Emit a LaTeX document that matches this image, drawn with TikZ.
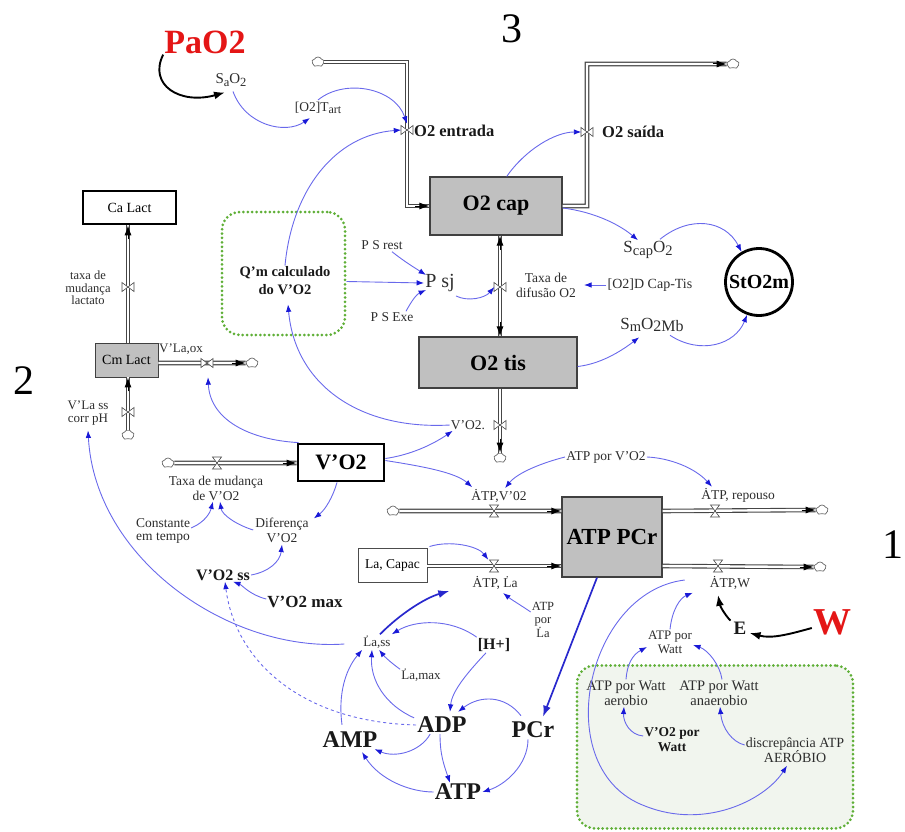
\documentclass[tikz,border=0pt]{standalone}
\usepackage{fontspec}
\setmainfont{Liberation Serif}
\usetikzlibrary{arrows.meta,shapes.symbols,calc}
\definecolor{infl}{RGB}{105,105,235}
\definecolor{inflhead}{RGB}{25,25,215}
\definecolor{strongblue}{RGB}{40,40,205}
\definecolor{stockgray}{RGB}{192,192,192}
\definecolor{pipegray}{RGB}{70,70,70}
\definecolor{dotgreen}{RGB}{95,175,55}
\definecolor{boxfill}{RGB}{241,245,238}
\definecolor{txt}{RGB}{45,45,45}
\definecolor{redlbl}{RGB}{228,22,22}
\newcommand\sbs[2][12.5]{\raisebox{-0.35ex}{\fontsize{#1}{#1}\selectfont #2}}
\tikzset{
  sm/.style={font=\fontsize{13.5}{15}\selectfont, text=txt, align=center, inner sep=1pt},
  bl/.style={font=\bfseries\fontsize{#1}{18}\selectfont, text=black!90, align=center, inner sep=1pt},
  num/.style={font=\fontsize{42}{42}\selectfont, inner sep=0pt},
  inf/.style={draw=infl, line width=0.9pt, -{Latex[length=7.5pt,width=5.5pt,color=inflhead]}},
  infs/.style={draw=strongblue, line width=1.7pt, -{Latex[length=11pt,width=8pt]}},
  blk/.style={draw=black, line width=1.9pt, -{Latex[length=11pt,width=8pt]}},
  pipe/.style={draw=pipegray, double=white, double distance=2.4pt, line width=1.1pt},
  ptip/.style={draw=black, line width=1pt, -{Latex[length=10pt,width=7pt]}},
  stock/.style={draw=black!75, fill=stockgray, line width=1.2pt, inner sep=0pt, font=\bfseries\fontsize{22}{22}\selectfont},
  cl/.style={cloud, cloud puffs=5, cloud puff arc=120, aspect=1.2, draw=black!60, fill=white, line width=0.7pt, minimum width=12pt, minimum height=10pt, inner sep=0pt},
  vn/.style={inner sep=0pt, minimum width=11pt, minimum height=12pt},
  gbox/.style={draw=dotgreen, dash pattern=on 0pt off 4.4pt, line cap=round, line width=3pt, rounded corners=18pt},
  vh/.pic={\draw[black!70,fill=white,line width=0.6pt] (-4.5,-6)--(4.5,-6)--(-4.5,6)--(4.5,6)--cycle;},
  vv/.pic={\draw[black!70,fill=white,line width=0.6pt] (-6,-4.5)--(-6,4.5)--(6,-4.5)--(6,4.5)--cycle;},
}
\begin{document}
\begin{tikzpicture}[x=1pt,y=-1pt]
\useasboundingbox (0,0) rectangle (905,832);
% background boxes
\node[gbox, minimum width=123pt, minimum height=123pt] (QmBox) at (283.5,273.5) {};
\node[gbox, fill=boxfill, minimum width=276pt, minimum height=163pt] (GBox) at (715,747) {};
% stocks
\node[stock, minimum width=132pt, minimum height=58pt] (O2cap) at (496,206) {O2 cap};
\node[stock, minimum width=158pt, minimum height=51pt] (O2tis) at (498,362.5) {O2 tis};
\node[stock, minimum width=100pt, minimum height=80pt, font=\bfseries\fontsize{23}{23}\selectfont] (ATPPCr) at (612,537) {ATP PCr};
\node[stock, minimum width=63pt, minimum height=34pt, font=\fontsize{14}{14}\selectfont, line width=0.9pt] (CmLact) at (126.5,360) {Cm Lact};
\node[draw=black, line width=2.6pt, fill=white, minimum width=93pt, minimum height=33pt, font=\fontsize{14}{14}\selectfont] (CaLact) at (129.5,207.5) {Ca Lact};
\node[draw=black, line width=2.8pt, fill=white, minimum width=86pt, minimum height=37pt, font=\bfseries\fontsize{22}{22}\selectfont] (VO2) at (341,462.5) {V'O2};
\node[draw=black!70, line width=0.9pt, fill=white, minimum width=69pt, minimum height=34pt, font=\fontsize{13.5}{14}\selectfont] (LaCapac) at (392.5,565) {La, Capac};
\node[circle, draw=black, line width=2.8pt, fill=white, minimum size=67pt, inner sep=0pt, font=\bfseries\fontsize{20}{20}\selectfont] (StO2m) at (759,282) {StO2m};
% clouds
\node[cl] (c1) at (318,62) {};
\node[cl] (c2) at (733,64) {};
\node[cl] (c3) at (500,458) {};
\node[cl] (c4) at (252,363) {};
\node[cl] (c5) at (128,435) {};
\node[cl] (c6) at (168,463) {};
\node[cl] (c7) at (393,511) {};
\node[cl] (c8) at (822,510) {};
\node[cl] (c9) at (820,567) {};
% valve nodes
\node[vn] (v1) at (407,130) {};
\node[vn] (v2) at (587,132) {};
\node[vn] (v3) at (500,287) {};
\node[vn] (v4) at (500,425) {};
\node[vn] (v5) at (128,287) {};
\node[vn] (v6) at (207,363) {};
\node[vn] (v7) at (128,412) {};
\node[vn] (v8) at (217,463) {};
\node[vn] (v9) at (494,511) {};
\node[vn] (v10) at (715,511) {};
\node[vn] (v11) at (494,566) {};
\node[vn] (v12) at (718,566) {};
% pipes
\draw[pipe] (c1.east) -- (c1.east -| v1) -- (v1 |- O2cap.west) -- (O2cap.west);
\draw[ptip] ($(O2cap.west)+(-14,0)$) -- (O2cap.west);
\draw[pipe] (O2cap.east) -- (O2cap.east -| v2) -- (v2 |- c2) -- (c2.west);
\draw[ptip] ($(c2.west)+(-14,0)$) -- (c2.west);
\draw[pipe] (O2cap.south -| v3) -- (O2tis.north -| v3);
\draw[ptip] ($(O2cap.south -| v3)+(0,14)$) -- (O2cap.south -| v3);
\draw[ptip] ($(O2tis.north -| v3)+(0,-14)$) -- (O2tis.north -| v3);
\draw[pipe] (O2tis.south -| v4) -- (c3.north);
\draw[ptip] ($(c3.north)+(0,-14)$) -- (c3.north);
\draw[pipe] (CmLact.north -| v5) -- (CaLact.south -| v5);
\draw[ptip] ($(CaLact.south -| v5)+(0,14)$) -- (CaLact.south -| v5);
\draw[pipe] (CmLact.east |- v6) -- (c4.west);
\draw[ptip] ($(c4.west)+(-14,0)$) -- (c4.west);
\draw[pipe] (c5.north) -- (CmLact.south -| v7);
\draw[ptip] ($(CmLact.south -| v7)+(0,14)$) -- (CmLact.south -| v7);
\draw[pipe] (c6.east) -- (VO2.west |- v8);
\draw[ptip] ($(VO2.west |- v8)+(-14,0)$) -- (VO2.west |- v8);
\draw[pipe] (c7.east) -- (ATPPCr.west |- v9);
\draw[ptip] ($(ATPPCr.west |- v9)+(-14,0)$) -- (ATPPCr.west |- v9);
\draw[pipe] (ATPPCr.east |- v10) -- (c8.west);
\draw[ptip] ($(c8.west)+(-14,0)$) -- (c8.west);
\draw[pipe] (LaCapac.east |- v11) -- (ATPPCr.west |- v11);
\draw[ptip] ($(ATPPCr.west |- v11)+(-14,0)$) -- (ATPPCr.west |- v11);
\draw[pipe] (ATPPCr.east |- v12) -- (c9.west);
\draw[ptip] ($(c9.west)+(-14,0)$) -- (c9.west);
% valve symbols
\pic at (v1) {vv}; \pic at (v2) {vv}; \pic at (v3) {vv}; \pic at (v4) {vv};
\pic at (v5) {vv}; \pic at (v6) {vv}; \pic at (v7) {vv};
\pic at (v8) {vh}; \pic at (v9) {vh}; \pic at (v10) {vh}; \pic at (v11) {vh}; \pic at (v12) {vh};
% labels
\node[font=\bfseries\fontsize{34}{34}\selectfont, text=redlbl, inner sep=1pt] (PaO2) at (205,42) {PaO2};
\node[num] (n3) at (512,29) {3};
\node[num] (n2) at (24,381) {2};
\node[num] (n1) at (893,545) {1};
\node[sm, font=\fontsize{15}{15}\selectfont] (SaO2) at (231,80) {S\sbs{a}O\sbs{2}};
\node[sm] (OTart) at (318,108) {[O2]T\sbs[12]{art}};
\node[bl=16.5, anchor=west] (O2ent) at (413,131) {O2 entrada};
\node[bl=16.5, anchor=west] (O2sai) at (601,132) {O2 saída};
\node[sm, font=\fontsize{17}{17}\selectfont] (ScapO2) at (648,250) {S\sbs[14.5]{cap}O\sbs[14.5]{2}};
\node[sm, font=\fontsize{17}{17}\selectfont] (SmO2Mb) at (652,325) {S\sbs[14.5]{m}O\sbs[16]{2Mb}};
\node[sm, font=\fontsize{14}{15}\selectfont] (O2DCT) at (650,285) {[O2]D Cap-Tis};
\node[sm] (Taxadif) at (546,285) {Taxa de\\difusão O2};
\node[sm, font=\fontsize{20}{20}\selectfont] (Psj) at (440,283) {P sj};
\node[sm] (PSrest) at (382,245) {P S rest};
\node[sm] (PSExe) at (392,317) {P S Exe};
\node[bl=14.5] (Qm) at (285,281) {Q'm calculado\\do V'O2};
\node[sm] (VO2dot) at (468,425) {V'O2.};
\node[sm, font=\fontsize{13}{13}\selectfont] (VLaox) at (181,349) {V'La,ox};
\node[sm, font=\fontsize{13}{13}\selectfont] (VLass) at (88,413) {V'La ss\\corr pH};
\node[sm, font=\fontsize{12.5}{12.5}\selectfont] (taxaLact) at (88,288) {taxa de\\mudança\\lactato};
\node[sm] (TaxaVO2) at (216,488) {Taxa de mudança\\de V'O2};
\node[sm] (Difer) at (282,530) {Diferença\\V'O2};
\node[sm, font=\fontsize{13.5}{13}\selectfont] (Constante) at (163,531) {Constante\\em tempo};
\node[bl=16] (VO2ss) at (223,575) {V'O2 ss};
\node[bl=17] (VO2max) at (305,602) {V'O2 max};
\node[sm] (ATPVO2) at (499,496) {\.{A}TP,V'02};
\node[sm] (ATPrep) at (738,495) {\.{A}TP, repouso};
\node[sm] (ATPporVO2) at (606,457) {ATP por V'O2};
\node[sm] (ATPLa) at (495,583) {\.{A}TP, \.{L}a};
\node[sm] (ATPW) at (730,583) {\.{A}TP,W};
\node[sm, font=\fontsize{12.5}{13}\selectfont] (ATPporLa) at (543,620) {ATP\\por\\\.{L}a};
\node[sm, font=\fontsize{13}{13}\selectfont] (Lass) at (377,642) {\.{L}a,ss};
\node[sm, font=\fontsize{13}{13}\selectfont] (Lamax) at (421,675) {\.{L}a,max};
\node[bl=16] (Hplus) at (494,645) {[H+]};
\node[bl=24] (ADP) at (442,725) {ADP};
\node[bl=24] (AMP) at (350,740) {AMP};
\node[bl=24] (PCr) at (533,730) {PCr};
\node[bl=24] (ATP) at (458,792) {ATP};
\node[bl=19] (E) at (740,628) {E};
\node[font=\bfseries\fontsize{38}{38}\selectfont, text=redlbl, inner sep=1pt] (W) at (832,622) {W};
\node[sm, font=\fontsize{13}{14}\selectfont] (ATPporWatt) at (670,642) {ATP por\\Watt};
\node[sm, font=\fontsize{14.5}{15}\selectfont] (Aer) at (626,693) {ATP por Watt\\aerobio};
\node[sm, font=\fontsize{14.5}{15}\selectfont] (Anaer) at (719,693) {ATP por Watt\\anaerobio};
\node[bl=13.5, font=\bfseries\fontsize{13.5}{15}\selectfont] (VO2porW) at (672,740) {V'O2 por\\Watt};
\node[sm, font=\fontsize{14}{15}\selectfont] (Disc) at (795,750) {discrepância ATP\\AERÓBIO};
% black arrows
\draw[blk] (PaO2.south west) .. controls (148,85) and (180,105) .. ($(SaO2.south)+(-6,5)$);
\draw[blk] ($(E.north west)+(-2,0)$) .. controls (725,615) and (720,606) .. ($(ATPW.south)+(-12,4)$);
\draw[blk] ($(W.west)+(0,6)$) .. controls (790,634) and (772,639) .. ($(E.east)+(2,5)$);
% influences top
\draw[inf] ($(SaO2.south)+(2,4)$) .. controls (245,125) and (285,135) .. ($(OTart.south)+(-8,3)$);
\draw[inf] ($(OTart.north)+(0,-1)$) .. controls (345,78) and (395,88) .. (v1.north);
\draw[inf] (Qm.north) .. controls (292,190) and (335,135) .. (v1.west);
\draw[inf] (O2cap.70) .. controls (525,150) and (555,132) .. (v2.west);
\draw[inf] ($(O2cap.east)+(0,2)$) .. controls (595,212) and (620,225) .. ($(ScapO2.north)+(-10,0)$);
\draw[inf] ($(ScapO2.north)+(12,-1)$) .. controls (690,215) and (725,220) .. (StO2m.120);
\draw[inf] ($(SmO2Mb.south)+(18,2)$) .. controls (700,355) and (735,345) .. (StO2m.250);
\draw[inf] ($(O2tis.east)+(0,4)$) .. controls (600,364) and (620,352) .. ($(SmO2Mb.south west)+(20,4)$);
\draw[inf, shorten >=7pt] (O2DCT.west) -- (Taxadif.east);
\draw[inf] ($(PSrest.south)+(10,1)$) .. controls (405,262) and (415,268) .. ($(Psj.west)+(2,-8)$);
\draw[inf] ($(PSExe.north)+(14,0)$) .. controls (412,300) and (417,294) .. ($(Psj.west)+(2,7)$);
\draw[inf] ($(QmBox.east)+(0,8)$) -- (Psj.west);
\draw[inf] ($(Psj.south east)+(0,3)$) .. controls (468,302) and (485,298) .. (v3.west);
\draw[inf] (VO2dot.west) .. controls (360,430) and (295,385) .. ($(Qm.south)+(3,8)$);
\draw[inf] ($(VO2.east)+(0,-4)$) .. controls (410,455) and (432,445) .. ($(VO2dot.south west)+(3,0)$);
\draw[inf] ($(VO2.east)+(0,-2)$) .. controls (420,466) and (455,472) .. ($(ATPVO2.north west)+(2,-1)$);
\draw[inf] (ATPporVO2.west) .. controls (545,462) and (518,472) .. ($(ATPVO2.north)+(6,0)$);
\draw[inf] (ATPporVO2.east) .. controls (670,458) and (695,468) .. ($(ATPrep.north west)+(12,0)$);
\draw[inf] ($(LaCapac.north east)+(2,-1)$) .. controls (450,540) and (478,546) .. (v11.north west);
\draw[inf] ($(ATPporLa.west)+(0,-8)$) .. controls (522,606) and (512,600) .. ($(ATPLa.south)+(8,2)$);
\draw[inf] ($(VO2.north west)+(2,0)$) .. controls (250,440) and (210,420) .. ($(v6.south)+(1,8)$);
\draw[inf] ($(VO2.south)+(-4,0)$) .. controls (333,497) and (325,510) .. ($(Difer.north east)+(4,2)$);
\draw[inf] ($(Difer.west)+(-1,0)$) .. controls (237,525) and (222,515) .. ($(TaxaVO2.south)+(4,0)$);
\draw[inf] ($(Constante.east)+(0,-3)$) .. controls (205,522) and (210,513) .. ($(TaxaVO2.south)+(-3,0)$);
\draw[inf] (VO2ss.east) .. controls (268,572) and (280,562) .. ($(Difer.south)+(0,1)$);
\draw[inf] ($(VO2max.west)+(0,-3)$) .. controls (250,595) and (242,585) .. ($(VO2ss.south)+(10,0)$);
\draw[inf, dashed] (ADP.west) .. controls (300,722) and (235,660) .. ($(VO2ss.south)+(2,0)$);
\draw[inf] ($(Lass.west)+(-18,2)$) .. controls (230,652) and (95,560) .. ($(VLass.south)+(0,4)$);
% metabolic cluster
\draw[infs] ($(Lass.north)+(3,0)$) .. controls (400,614) and (425,598) .. ($(ATPLa.south west)+(-22,0)$);
\draw[inf] (Hplus.north west) .. controls (450,618) and (415,620) .. (Lass.north east);
\draw[inf] ($(Lamax.north west)+(0,2)$) .. controls (390,662) and (384,656) .. ($(Lass.south)+(2,0)$);
\draw[inf] ($(Hplus.south)+(-8,0)$) .. controls (470,670) and (452,690) .. ($(ADP.north)+(8,-4)$);
\draw[inf] ($(PCr.north)+(-12,-5)$) .. controls (505,695) and (480,695) .. ($(ADP.north)+(16,-4)$);
\draw[inf] ($(ADP.north west)+(-2,2)$) .. controls (385,705) and (370,680) .. ($(Lass.south)+(-5,0)$);
\draw[inf] ($(AMP.north)+(-8,-6)$) .. controls (338,695) and (345,670) .. (Lass.south west);
\draw[inf] ($(ADP.south west)+(14,0)$) .. controls (420,752) and (395,758) .. ($(AMP.south east)+(-4,0)$);
\draw[inf] ($(ADP.south)+(-2,0)$) .. controls (440,755) and (444,765) .. ($(ATP.north)+(-8,0)$);
\draw[inf] ($(PCr.south)+(-5,0)$) .. controls (528,765) and (505,785) .. (ATP.east);
\draw[inf] (ATP.west) .. controls (410,792) and (380,780) .. ($(AMP.south)+(12,3)$);
\draw[infs] ($(ATPPCr.south)+(-15,0)$) -- ($(PCr.north)+(10,-4)$);
% bottom right
\draw[inf] ($(ATPW.west)+(-24,-3)$) .. controls (585,592) and (548,770) .. (645,806) .. controls (705,830) and (765,800) .. ($(Disc.south)+(-8,2)$);
\draw[inf] (ATPporWatt.north) .. controls (672,610) and (680,598) .. ($(ATPW.south west)+(-16,2)$);
\draw[inf] (Aer.north) .. controls (627,665) and (632,655) .. ($(ATPporWatt.west)+(0,5)$);
\draw[inf] ($(Anaer.north)+(3,0)$) .. controls (720,665) and (708,650) .. ($(ATPporWatt.east)+(0,3)$);
\draw[inf] ($(VO2porW.west)+(0,-4)$) .. controls (630,735) and (623,722) .. ($(Aer.south)+(-2,0)$);
\draw[inf] ($(Disc.west)+(0,-5)$) .. controls (732,742) and (722,728) .. ($(Anaer.south)+(1,0)$);
\end{tikzpicture}
\end{document}
